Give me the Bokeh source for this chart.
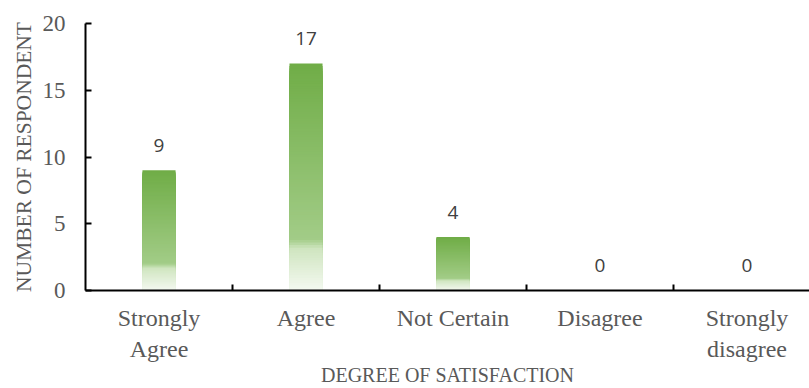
from bokeh.plotting import figure
from bokeh.models import Range1d, FixedTicker, Title
from bokeh.core.properties import value
from bokeh.embed import file_html
from bokeh.resources import INLINE

# Survey responses
categories = ["Strongly\nAgree", "Agree", "Not Certain", "Disagree", "Strongly\ndisagree"]
counts = [9, 17, 4, 0, 0]
y_ticks = [0, 5, 10, 15, 20]

BAR_WIDTH = 0.225
N_STEPS = 90
SERIF = "Liberation Serif"
GREY = "#595959"

# gradient stops: (fraction from bar top, colour)
STOPS = [(0.0, "#70ad47"), (0.77, "#a2cc87"), (0.81, "#cfe5c0"), (1.0, "#f6faf3")]


def hex_rgb(h):
    h = h.lstrip("#")
    return tuple(int(h[i:i + 2], 16) for i in (0, 2, 4))


def shade(f):
    for (f0, c0), (f1, c1) in zip(STOPS[:-1], STOPS[1:]):
        if f <= f1:
            t = (f - f0) / (f1 - f0)
            a, b = hex_rgb(c0), hex_rgb(c1)
            return "#%02x%02x%02x" % tuple(round(a[i] + (b[i] - a[i]) * t) for i in range(3))
    return STOPS[-1][1]


p = figure(width=809, height=388, output_backend="svg", toolbar_location=None,
           x_range=Range1d(0, 724 / 147), y_range=Range1d(0, 20),
           min_border_left=85, min_border_right=0, min_border_top=23,
           min_border_bottom=98, background_fill_color="white",
           border_fill_color="white")
p.outline_line_color = None
p.grid.visible = False

xs = [i + 0.5 for i in range(len(counts))]

# vertical gradient: full bar first, then progressively shorter, lighter slices
for k in range(N_STEPS):
    f = k / N_STEPS
    lefts, rights, tops, bottoms = [], [], [], []
    for x, v in zip(xs, counts):
        if v <= 0:
            continue
        lefts.append(x - BAR_WIDTH / 2)
        rights.append(x + BAR_WIDTH / 2)
        tops.append(v * (1 - f))
        bottoms.append(0)
    p.quad(left=lefts, right=rights, top=tops, bottom=bottoms,
           fill_color=shade(f), line_color=None)

# value labels
p.text(x=xs, y=counts, text=[str(c) for c in counts],
       text_font=value("Open Sans"), text_font_size="19px",
       text_color="#404040", text_align="center",
       text_baseline="alphabetic", y_offset=-25)

# x axis: category names at centres, tick marks at the boundaries
xa = p.xaxis[0]
xa.ticker = FixedTicker(ticks=xs, minor_ticks=[1, 2, 3, 4])
xa.major_label_overrides = {x: c for x, c in zip(xs, categories)}
xa.major_tick_line_color = None
xa.minor_tick_in = 6
xa.minor_tick_out = 0
xa.minor_tick_line_color = "black"
xa.minor_tick_line_width = 2
xa.axis_line_color = "black"
xa.axis_line_width = 2
xa.major_label_text_font = SERIF
xa.major_label_text_font_size = "24px"
xa.major_label_text_color = GREY
xa.major_label_standoff = 8
xa.axis_label = "DEGREE OF SATISFACTION"
xa.axis_label_text_font = SERIF
xa.axis_label_text_font_size = "20px"
xa.axis_label_text_font_style = "normal"
xa.axis_label_text_color = GREY
xa.axis_label_standoff = -1

# y axis
ya = p.yaxis[0]
ya.ticker = FixedTicker(ticks=y_ticks, minor_ticks=[])
ya.major_tick_in = 6
ya.major_tick_out = 0
ya.major_tick_line_color = "black"
ya.major_tick_line_width = 2
ya.axis_line_color = "black"
ya.axis_line_width = 2
ya.major_label_text_font = SERIF
ya.major_label_text_font_size = "23px"
ya.major_label_text_color = GREY
ya.major_label_standoff = 20

# y axis title, set a little below the middle of the plot area
p.add_layout(Title(text="NUMBER OF RESPONDENT", align="center", offset=-14,
                   standoff=8, text_font=SERIF, text_font_size="21.5px",
                   text_font_style="normal", text_color=GREY), "left")

open("out.html", "w").write(file_html(p, INLINE))
